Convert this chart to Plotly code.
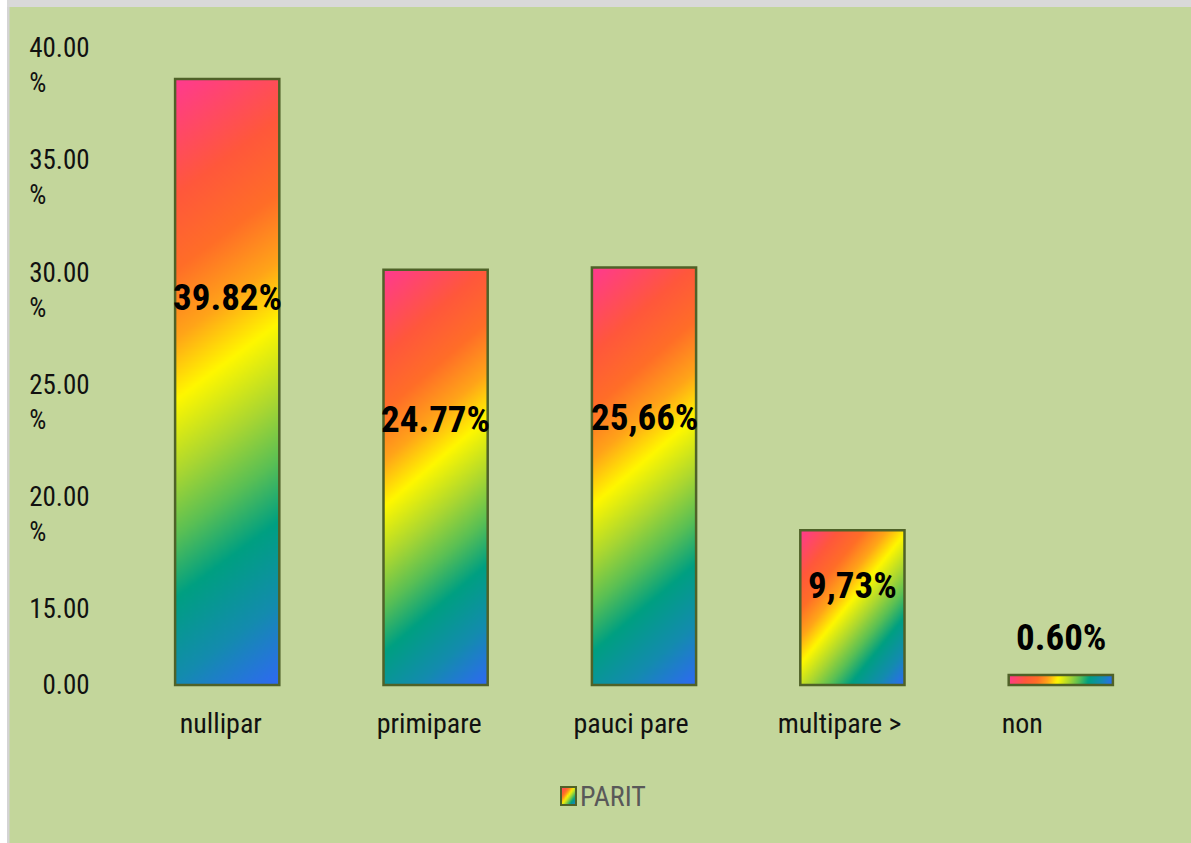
import base64
import struct
import zlib

import numpy as np
import plotly.graph_objects as go

# ---------------- data ----------------
categories = ["nullipar", "primipare", "pauci pare", "multipare >", "non"]
value_labels = ["39.82%", "24.77%", "25,66%", "9,73%", "0.60%"]
# bar tops as read against the (irregular) printed y scale
bar_tops = [38.6, 30.1, 30.2, 18.5, 12.05]
axis_zero = 11.6  # scale position printed as "0.00"
ytick_values = [11.6, 15, 20, 25, 30, 35, 40]
ytick_texts = ["0.00", "15.00", "20.00", "25.00", "30.00", "35.00", "40.00"]
ytick_has_pct = [False, False, True, True, True, True, True]
series_name = "PARIT"

# ---------------- layout geometry / styles ----------------
W, H = 1191, 843
ML, MR, MT, MB = 123, 26, 40, 156
PW, PH = W - ML - MR, H - MT - MB
PX_PER_UNIT = 22.44
y_lo = axis_zero - 2 / PX_PER_UNIT
y_hi = y_lo + PH / PX_PER_UNIT

FONT = "Liberation Sans Narrow, Arial Narrow, Roboto Condensed, DejaVu Sans Condensed, sans-serif"
BG = "#C3D69B"
EDGE = "#4F6228"
YFONT = 27
NBSP = "\u00a0"

stops = [
    (0.00, (255, 58, 145)),
    (0.17, (255, 88, 60)),
    (0.28, (255, 110, 40)),
    (0.38, (255, 165, 25)),
    (0.47, (255, 248, 0)),
    (0.58, (170, 215, 50)),
    (0.67, (90, 192, 85)),
    (0.76, (0, 160, 130)),
    (0.88, (20, 140, 175)),
    (1.00, (48, 105, 245)),
]


def png_uri(arr):
    h, w, _ = arr.shape
    raw = b"".join(b"\x00" + arr[i].tobytes() for i in range(h))

    def chunk(tag, data):
        c = struct.pack(">I", len(data)) + tag + data
        return c + struct.pack(">I", zlib.crc32(tag + data) & 0xFFFFFFFF)

    png = b"\x89PNG\r\n\x1a\n"
    png += chunk(b"IHDR", struct.pack(">IIBBBBB", w, h, 8, 2, 0, 0, 0))
    png += chunk(b"IDAT", zlib.compress(raw, 9))
    png += chunk(b"IEND", b"")
    return "data:image/png;base64," + base64.b64encode(png).decode()


def gradient(pw, ph):
    r = ph / pw
    s = 1.45 * r ** -0.38
    nx = max(8, int(round(pw / 2)))
    ny = max(4, int(round(ph / 2)))
    X, Y = np.meshgrid((np.arange(nx) + 0.5) / nx * pw, (np.arange(ny) + 0.5) / ny * ph)
    t = (Y + s * X) / (ph + s * pw)
    pos = np.array([p for p, _ in stops])
    cols = np.array([c for _, c in stops], dtype=float)
    img = np.stack([np.interp(t, pos, cols[:, k]) for k in range(3)], axis=-1)
    return png_uri(np.clip(img, 0, 255).astype(np.uint8))


def xp(px):
    return (px - ML) / PW


def yp(py):
    return (H - MB - py) / PH


fig = go.Figure()
fig.add_trace(
    go.Bar(
        x=categories,
        y=[t - axis_zero for t in bar_tops],
        base=axis_zero,
        name=series_name,
        marker=dict(color="rgba(0,0,0,0)", line=dict(color=EDGE, width=2.5)),
        showlegend=False,
        hoverinfo="x+name",
    )
)

bar_w_units = 0.5
images = []
annotations = []
for cat, top, lab in zip(categories, bar_tops, value_labels):
    h_units = top - axis_zero
    pw = bar_w_units * PW / len(categories)
    ph = h_units * PX_PER_UNIT
    images.append(
        dict(
            source=gradient(pw, ph), xref="x", yref="y", x=cat, y=top,
            sizex=bar_w_units, sizey=h_units, xanchor="center", yanchor="top",
            sizing="stretch", layer="below",
        )
    )
    if h_units > 1:
        annotations.append(
            dict(x=cat, y=axis_zero + 0.64 * h_units, xref="x", yref="y", text="<b>%s</b>" % lab,
                 showarrow=False, font=dict(family=FONT, size=37, color="#000000"))
        )
    else:
        annotations.append(
            dict(x=cat, y=top, xref="x", yref="y", text="<b>%s</b>" % lab, yanchor="bottom",
                 yshift=14, showarrow=False, font=dict(family=FONT, size=37, color="#000000"))
        )

# legend (drawn manually so its gradient swatch can be shown)
images.append(
    dict(source=gradient(15, 18), xref="paper", yref="paper", x=xp(561), y=yp(787),
         sizex=15 / PW, sizey=18 / PH, xanchor="left", yanchor="top", sizing="stretch", layer="above")
)
shapes = [
    dict(type="rect", xref="paper", yref="paper", x0=xp(561), x1=xp(576), y0=yp(805), y1=yp(787),
         line=dict(color=EDGE, width=2), fillcolor="rgba(0,0,0,0)"),
    # page frame strips
    dict(type="rect", xref="paper", yref="paper", x0=xp(0), x1=xp(W), y0=yp(7), y1=yp(0),
         line=dict(width=0), fillcolor="#D9D9D9", layer="below"),
    dict(type="rect", xref="paper", yref="paper", x0=xp(0), x1=xp(7), y0=yp(H), y1=yp(0),
         line=dict(width=0), fillcolor="#FFFFFF", layer="below"),
    dict(type="rect", xref="paper", yref="paper", x0=xp(7), x1=xp(9.5), y0=yp(H), y1=yp(7),
         line=dict(width=0), fillcolor="#D4D4D4", layer="below"),
]
annotations.append(
    dict(x=xp(578), y=yp(796), xref="paper", yref="paper", text=series_name, xanchor="left",
         yanchor="middle", showarrow=False, font=dict(family=FONT, size=28, color="#595959"))
)

# y tick labels: two-line labels are centred by plotly, so shift them to keep first line on the value
shift = 0.65 * YFONT / PX_PER_UNIT
tickvals = [v - shift if p else v for v, p in zip(ytick_values, ytick_has_pct)]
ticktext = [t + "<br>%" + NBSP * 7 if p else t for t, p in zip(ytick_texts, ytick_has_pct)]

# x labels: the original labels sit a little left of the bar centres
x_pad = [2, 2, 4, 4, 12]
xticktext = [c + NBSP * n for c, n in zip(categories, x_pad)]

fig.update_layout(
    width=W, height=H,
    margin=dict(l=ML, r=MR, t=MT, b=MB, autoexpand=False),
    paper_bgcolor=BG, plot_bgcolor=BG,
    bargap=0.5,
    showlegend=False,
    images=images, annotations=annotations, shapes=shapes,
    xaxis=dict(
        type="category", tickvals=categories, ticktext=xticktext, showgrid=False, zeroline=False,
        showline=False, ticks="outside", ticklen=11, tickcolor="rgba(0,0,0,0)",
        tickfont=dict(family=FONT, size=28, color="#111111"), fixedrange=True,
    ),
    yaxis=dict(
        range=[y_lo, y_hi], tickvals=tickvals, ticktext=ticktext, showgrid=False, zeroline=False,
        showline=False, ticks="outside", ticklen=27, tickcolor="rgba(0,0,0,0)",
        tickfont=dict(family=FONT, size=YFONT, color="#111111"), fixedrange=True,
    ),
)

fig.write_html(
    "out.html",
    config={"displayModeBar": False},
    post_script="document.body.style.margin='0px';",
)
